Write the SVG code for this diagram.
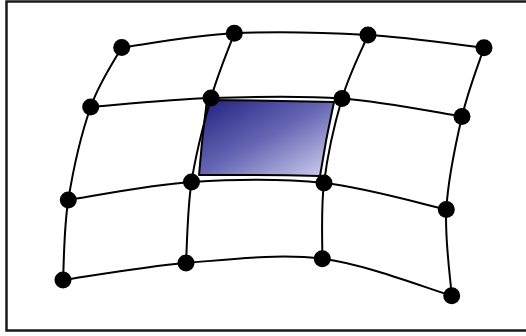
<svg xmlns="http://www.w3.org/2000/svg" width="526" height="336" viewBox="0 0 526 336">
<style>
.frame{fill:#fff;stroke:#1a1a1a;stroke-width:2.5}
.edge{fill:none;stroke:#000;stroke-width:2}
.dot{fill:#000}
.patch{fill:url(#g);stroke:#000;stroke-width:2;stroke-linejoin:round}
</style>
<defs>
<linearGradient id="g" x1="0" y1="0" x2="1" y2="1">
<stop offset="0" stop-color="#20207f"/>
<stop offset="0.5" stop-color="#6767b5"/>
<stop offset="1" stop-color="#d4d4f0"/>
</linearGradient>
</defs>
<rect class="frame" x="6.5" y="1.5" width="525" height="329"/>
<g id="patch">
<path class="patch" d="M207,100 Q270,100.5 334,102 Q326,138 320,176 Q259,174.5 199,175 Q202,137 207,100 Z"/>
</g>
<g id="connectors">
<path class="edge" d="M121.7,47.5 C140.5,45.1 193.3,35.4 234.3,33.3 C275.4,31.2 326.4,32.6 368,35 C409.6,37.4 464.7,45.6 484,47.7"/>
<path class="edge" d="M90.7,107 C110.8,105.5 169.1,99.4 211,98 C252.9,96.6 300.2,95.4 342,98.5 C383.8,101.6 442,113.5 462,116.5"/>
<path class="edge" d="M68.3,200 C88.8,197 148.9,184.8 191.5,182 C234.1,179.2 281.5,178.4 324,183 C366.5,187.6 425.9,205.1 446.3,209.5"/>
<path class="edge" d="M63,280 C83.5,277.2 142.8,266.6 186,263 C229.2,259.5 278,253.3 322.3,258.7 C366.6,264.2 430.1,289.5 451.7,295.7"/>
<path class="edge" d="M121.7,47.5 C116.5,57.4 99.6,81.6 90.7,107 C81.8,132.4 72.9,171.2 68.3,200 C63.7,228.8 63.9,266.7 63,280"/>
<path class="edge" d="M234.3,33.3 C230.4,44.1 218.1,73.2 211,98 C203.9,122.8 195.7,154.5 191.5,182 C187.3,209.5 186.9,249.5 186,263"/>
<path class="edge" d="M368,35 C363.7,45.6 349.3,73.8 342,98.5 C334.7,123.2 327.3,156.3 324,183 C320.7,209.7 322.6,246.1 322.3,258.7"/>
<path class="edge" d="M484,47.7 C480.3,59.2 468.3,89.5 462,116.5 C455.7,143.5 448,179.6 446.3,209.5 C444.6,239.4 450.8,281.3 451.7,295.7"/>
</g>
<g id="n00"><circle class="dot" cx="121.7" cy="47.5" r="8.5"/></g>
<g id="n01"><circle class="dot" cx="234.3" cy="33.3" r="8.5"/></g>
<g id="n02"><circle class="dot" cx="368" cy="35" r="8.5"/></g>
<g id="n03"><circle class="dot" cx="484" cy="47.7" r="8.5"/></g>
<g id="n10"><circle class="dot" cx="90.7" cy="107" r="8.5"/></g>
<g id="n11"><circle class="dot" cx="211" cy="98" r="8.5"/></g>
<g id="n12"><circle class="dot" cx="342" cy="98.5" r="8.5"/></g>
<g id="n13"><circle class="dot" cx="462" cy="116.5" r="8.5"/></g>
<g id="n20"><circle class="dot" cx="68.3" cy="200" r="8.5"/></g>
<g id="n21"><circle class="dot" cx="191.5" cy="182" r="8.5"/></g>
<g id="n22"><circle class="dot" cx="324" cy="183" r="8.5"/></g>
<g id="n23"><circle class="dot" cx="446.3" cy="209.5" r="8.5"/></g>
<g id="n30"><circle class="dot" cx="63" cy="280" r="8.5"/></g>
<g id="n31"><circle class="dot" cx="186" cy="263" r="8.5"/></g>
<g id="n32"><circle class="dot" cx="322.3" cy="258.7" r="8.5"/></g>
<g id="n33"><circle class="dot" cx="451.7" cy="295.7" r="8.5"/></g>
</svg>
